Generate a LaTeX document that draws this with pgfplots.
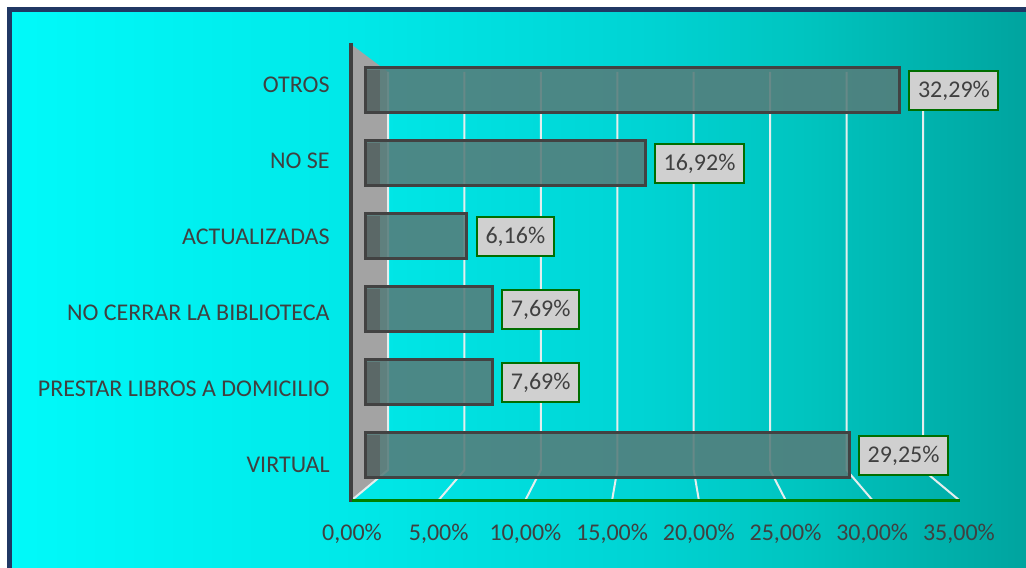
\documentclass[border=0pt]{standalone}
\usepackage{pgfplots}
\pgfplotsset{compat=1.18}
\usepackage{fontspec}
\setmainfont{Carlito}

\definecolor{txt}{RGB}{64,64,64}
\definecolor{navy}{RGB}{32,56,100}
\definecolor{barfill}{RGB}{86,124,122}
\definecolor{bardraw}{RGB}{66,66,66}
\definecolor{boxfill}{RGB}{208,208,208}
\definecolor{boxdraw}{RGB}{0,110,0}
\definecolor{gridc}{RGB}{228,238,238}
\definecolor{wallc}{RGB}{163,163,163}
\definecolor{basec}{RGB}{0,128,0}

\pgfdeclarehorizontalshading{bgshade}{100bp}{rgb(0bp)=(0,0.98,0.98); rgb(25bp)=(0,0.98,0.98); rgb(42bp)=(0,0.91,0.91); rgb(56bp)=(0,0.83,0.83); rgb(64bp)=(0,0.77,0.75); rgb(75bp)=(0,0.64,0.62); rgb(100bp)=(0,0.64,0.62)}

\begin{document}
\begin{tikzpicture}
\begin{scope}[x=0.5pt,y=-0.5pt,shift={(0,-567)}]
  \fill[white] (0,0) rectangle (1026,567);
  \shade[shading=bgshade] (9.5,9.5) rectangle (1030,572);
  \draw[navy, line width=2.5pt] (9.5,580) -- (9.5,9.5) -- (1040,9.5);
  % back wall
  \fill[wallc] (352,45) -- (388,72) -- (388,470) -- (352,500) -- cycle;
  % gridlines (back wall + floor)
  \foreach \k in {0,...,7}{
    \pgfmathsetmacro{\bx}{388+76.43*\k}
    \pgfmathsetmacro{\fx}{352+86.71*\k}
    \draw[gridc, line width=1pt] (\bx,72) -- (\bx,470) -- (\fx,500);
  }
\end{scope}

\begin{axis}[
  at={(176pt,33.5pt)}, anchor=south west,
  scale only axis, width=303.5pt, height=227.5pt,
  xmin=-0.7855, xmax=35.891, ymin=-0.6096, ymax=5.6233,
  axis line style={draw=none},
  tick style={draw=none},
  major tick length=0pt,
  xbar, bar width=22.5pt,
  xtick={-0.7855,4.4532,9.6919,14.9306,20.1693,25.4080,30.6467,35.8854},
  xticklabels={{0,00\%},{5,00\%},{10,00\%},{15,00\%},{20,00\%},{25,00\%},{30,00\%},{35,00\%}},
  ytick={-0.1233,0.9178,1.9589,3.0000,4.0411,5.0822},
  yticklabels={VIRTUAL,PRESTAR LIBROS A DOMICILIO,NO CERRAR LA BIBLIOTECA,ACTUALIZADAS,NO SE,OTROS},
  ticklabel style={font=\fontsize{12}{14}\selectfont, text=txt},
  xticklabel style={anchor=base, inner sep=0pt, yshift=-20pt},
  yticklabel style={anchor=east, inner sep=0pt, xshift=-11pt},
  /pgf/number format/assume math mode=true,
  point meta=x,
  nodes near coords={\pgfmathprintnumber[fixed,fixed zerofill,precision=2,use comma]{\pgfplotspointmeta}\%},
  nodes near coords style={anchor=west, xshift=4.5pt, fill=boxfill, draw=boxdraw,
     line width=1pt, text=txt, font=\fontsize{12}{14}\selectfont,
     inner xsep=4.3pt, minimum height=19.5pt, fill opacity=1, draw opacity=1, text opacity=1},
  clip=false,
]
\addplot[fill=barfill, draw=bardraw, line width=1.5pt, fill opacity=0.88]
  coordinates {(29.25,0) (7.69,1) (7.69,2) (6.16,3) (16.92,4) (32.29,5)};
\end{axis}

\begin{scope}[x=0.5pt,y=-0.5pt,shift={(0,-567)}]
  % darker left faces of the 3D bars (decoration only)
  \foreach \i in {0,...,5}{
    \pgfmathsetmacro{\c}{455.5-73*\i}
    \fill[black!65, opacity=0.6] (366.5,\c-20.5) rectangle (380,\c+20.5);
  }
  \draw[txt, line width=2pt] (351,43) -- (351,502);
  \draw[basec, line width=1.5pt] (352,500) -- (960,500);
\end{scope}

\pgfresetboundingbox
\useasboundingbox (0,0) rectangle (513pt,283.5pt);
\end{tikzpicture}
\end{document}
